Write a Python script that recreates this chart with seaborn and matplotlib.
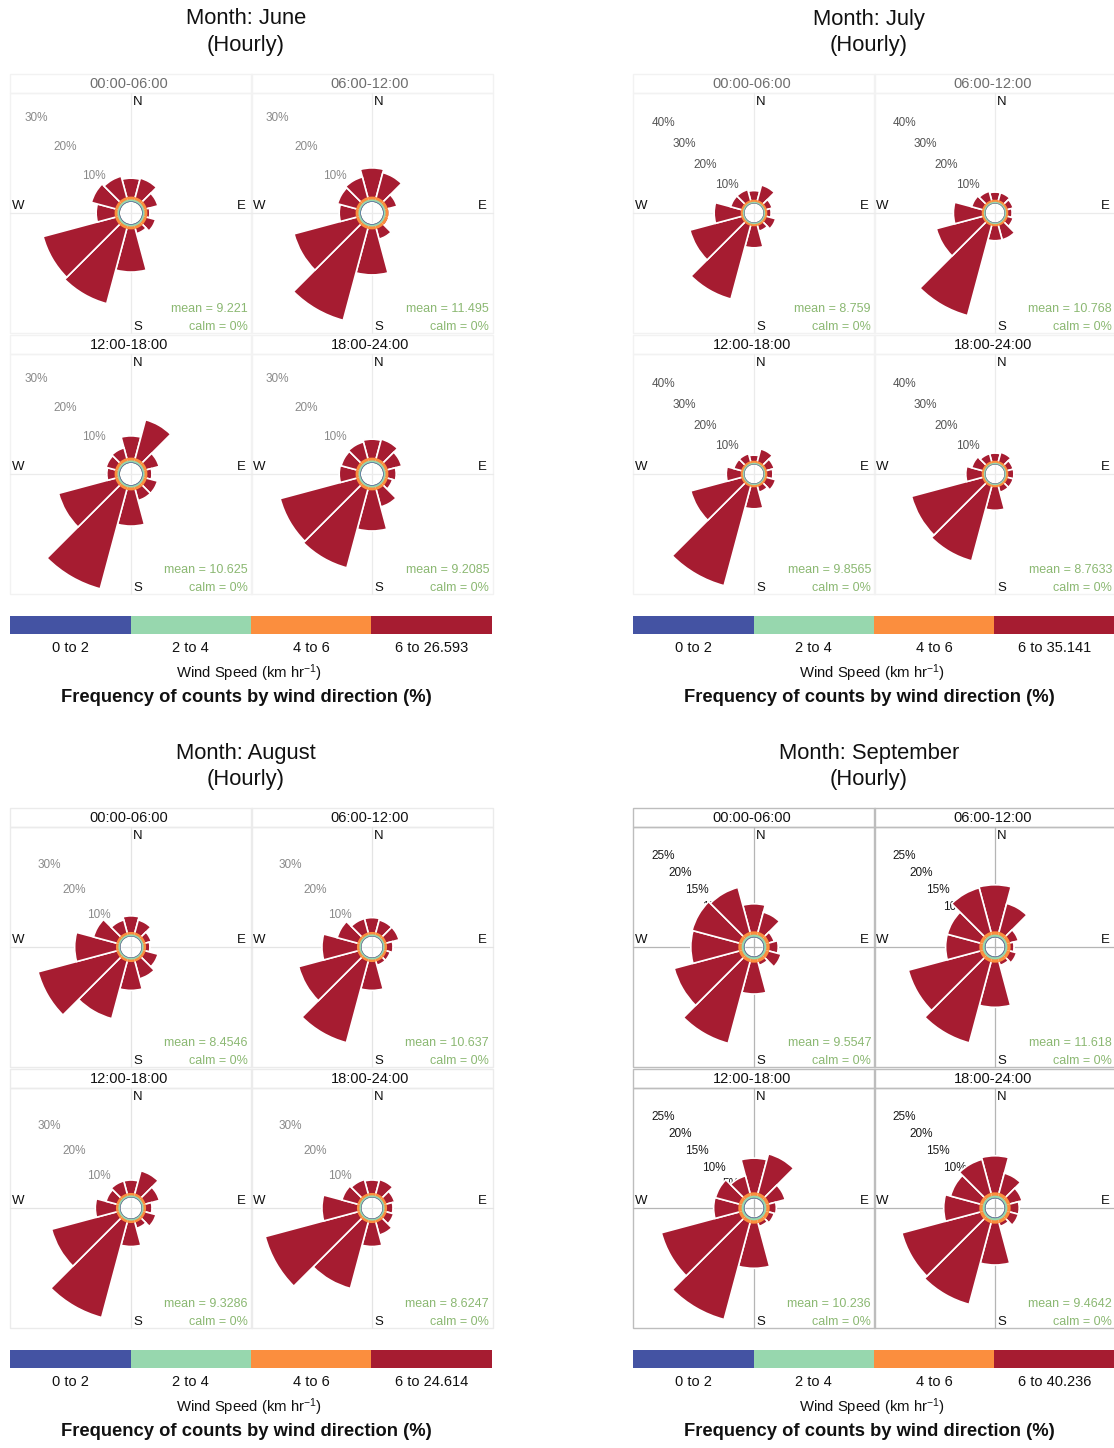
import numpy as np
import matplotlib
matplotlib.use("Agg")
import matplotlib.pyplot as plt
from matplotlib.colors import ListedColormap
from matplotlib.patches import Rectangle
import seaborn as sns

sns.set_theme(style="white")
plt.rcParams["font.family"] = ["Liberation Sans", "DejaVu Sans"]
plt.rcParams["mathtext.fontset"] = "custom"
plt.rcParams["mathtext.rm"] = "Liberation Sans"
plt.rcParams["mathtext.default"] = "regular"

# ---------------------------------------------------------------- data
months = ["June", "July", "August", "September"]
periods = ["00:00-06:00", "06:00-12:00", "12:00-18:00", "18:00-24:00"]
directions = [0, 30, 60, 90, 120, 150, 180, 210, 240, 270, 300, 330]
speed_labels = ["0 to 2", "2 to 4", "4 to 6"]
speed_colours = ["#4453A3", "#97D7AE", "#FB8E3E", "#A61C31"]

# low wind-speed bins (% of counts per direction)
low_0_2 = [0.15, 0.15, 0.15, 0.15, 0.15, 0.15, 0.15, 0.15, 0.15, 0.15, 0.15, 0.15]
low_2_4 = [0.45, 0.45, 0.45, 0.45, 0.45, 0.45, 0.45, 0.45, 0.45, 0.45, 0.45, 0.45]
low_4_6 = [0.70, 0.70, 0.70, 0.70, 0.70, 0.70, 0.70, 0.70, 0.70, 0.70, 0.70, 0.70]

# top wind-speed bin (% of counts per direction), N clockwise in 30 degree sectors
june_00_06 = [4.5, 4.8, 2.8, 0.6, 2.2, 1.2, 10.4, 18.9, 18.2, 4.5, 6.0, 5.3]
june_06_12 = [7.0, 6.2, 2.3, 0.2, 0.2, 2.6, 11.1, 23.1, 15.7, 4.0, 4.7, 5.1]
june_12_18 = [5.3, 9.7, 3.1, 1.1, 2.7, 2.7, 8.7, 25.0, 14.3, 1.9, 2.3, 2.6]
june_18_24 = [4.5, 4.8, 3.5, 1.9, 1.2, 4.3, 9.9, 19.7, 19.2, 4.0, 3.8, 4.1]

july_00_06 = [3.1, 5.3, 1.9, 1.3, 3.1, 1.9, 7.3, 25.7, 18.0, 9.0, 3.7, 3.7]
july_06_12 = [2.6, 2.6, 1.9, 1.3, 1.9, 4.9, 4.9, 31.5, 16.1, 9.6, 3.7, 3.1]
july_12_18 = [1.9, 4.3, 2.6, 1.9, 3.1, 1.9, 7.3, 34.7, 17.7, 4.9, 2.6, 2.6]
july_18_24 = [2.6, 3.1, 1.9, 1.9, 1.9, 1.9, 7.8, 26.0, 24.8, 5.4, 3.7, 2.6]

august_00_06 = [4.6, 3.7, 1.7, 1.1, 3.7, 5.1, 8.1, 16.9, 23.2, 11.8, 6.8, 3.7]
august_06_12 = [4.1, 3.7, 3.7, 1.7, 1.1, 1.1, 8.1, 24.0, 17.4, 10.0, 6.0, 4.1]
august_12_18 = [3.7, 6.7, 4.1, 1.7, 3.1, 1.7, 6.7, 28.1, 19.2, 5.9, 3.1, 3.7]
august_18_24 = [3.7, 4.1, 2.4, 1.7, 2.1, 3.7, 6.7, 19.5, 27.3, 10.0, 4.6, 4.1]

september_00_06 = [5.8, 4.3, 1.1, 1.8, 2.6, 0.7, 6.6, 17.7, 14.1, 10.0, 10.2, 9.7]
september_06_12 = [9.8, 6.2, 1.8, 0.7, 1.4, 0.7, 9.4, 17.6, 15.6, 7.1, 7.1, 9.6]
september_12_18 = [7.2, 8.5, 3.5, 1.4, 1.1, 0.7, 9.4, 21.0, 16.9, 5.2, 5.1, 3.7]
september_18_24 = [7.7, 4.3, 2.6, 1.8, 1.8, 0.7, 8.7, 17.7, 17.0, 7.5, 6.4, 7.3]

top_bin = {
    "June": [june_00_06, june_06_12, june_12_18, june_18_24],
    "July": [july_00_06, july_06_12, july_12_18, july_18_24],
    "August": [august_00_06, august_06_12, august_12_18, august_18_24],
    "September": [september_00_06, september_06_12, september_12_18, september_18_24],
}

mean_speed = {
    "June": ["9.221", "11.495", "10.625", "9.2085"],
    "July": ["8.759", "10.768", "9.8565", "8.7633"],
    "August": ["8.4546", "10.637", "9.3286", "8.6247"],
    "September": ["9.5547", "11.618", "10.236", "9.4642"],
}
max_speed = {"June": "26.593", "July": "35.141", "August": "24.614", "September": "40.236"}
calm = "0%"

ring_labels = {
    "June": [10, 20, 30],
    "July": [10, 20, 30, 40],
    "August": [10, 20, 30],
    "September": [5, 10, 15, 20, 25],
}

# ---------------------------------------------------------------- layout (pixels)
W, H = 1114, 1448
panel_origin = {"June": (0, 0), "July": (623, 0), "August": (0, 734), "September": (623, 734)}
rose_centre = [(131, 213), (372, 213), (131, 474), (372, 474)]
px_per_pct = {"June": 4.1, "July": 2.95, "August": 3.5, "September": 4.75}
hole = {"June": 2.7, "July": 3.2, "August": 3.0, "September": 2.0}
frame_col = {"June": "#F2F2F2", "July": "#F2F2F2", "August": "#EBEBEB", "September": "#BDBDBD"}
cross_col = {"June": "#EBEBEB", "July": "#EBEBEB", "August": "#E4E4E4", "September": "#B5B5B5"}
ring_col = {"June": "#8A8A8A", "July": "#555555", "August": "#8A8A8A", "September": "#1A1A1A"}
strip_col = {
    "June": ["#6E6E6E", "#6E6E6E", "#111111", "#111111"],
    "July": ["#6E6E6E", "#6E6E6E", "#111111", "#111111"],
    "August": ["#111111", "#111111", "#111111", "#111111"],
    "September": ["#111111", "#111111", "#111111", "#111111"],
}
green_txt = "#8BB872"
ROSE_R = 125

fig = plt.figure(figsize=(W / 100, H / 100), dpi=100)
overlay = fig.add_axes([0, 0, 1, 1], zorder=0)
overlay.set_xlim(0, W)
overlay.set_ylim(H, 0)
overlay.axis("off")


def fig_box(x, y, w, h):
    return [x / W, 1 - (y + h) / H, w / W, h / H]


theta = np.deg2rad(directions)
sector = np.deg2rad(30)

for month in months:
    x0, y0 = panel_origin[month]
    s = px_per_pct[month]
    off = hole[month]

    overlay.text(x0 + 246, y0 + 19, f"Month: {month}", ha="center", va="center",
                 fontsize=15.8, color="#111111")
    overlay.text(x0 + 246, y0 + 45, "(Hourly)", ha="center", va="center",
                 fontsize=15.8, color="#111111")

    for k, period in enumerate(periods):
        cx, cy = x0 + rose_centre[k][0], y0 + rose_centre[k][1]

        # panel, strip and cross-hair
        overlay.add_patch(Rectangle((cx - 121, cy - 120), 242, 240, fill=False,
                                    edgecolor=frame_col[month], lw=1.0))
        overlay.add_patch(Rectangle((cx - 121, cy - 139), 242, 19, fill=False,
                                    edgecolor=frame_col[month], lw=1.0))
        overlay.plot([cx - 121, cx + 121], [cy, cy], color=cross_col[month], lw=0.9)
        overlay.plot([cx, cx], [cy - 120, cy + 120], color=cross_col[month], lw=0.9)
        overlay.text(cx - 2, cy - 129, period, ha="center", va="center",
                     fontsize=10.5, color=strip_col[month][k])

        # compass points
        overlay.text(cx + 7, cy - 111, "N", ha="center", va="center", fontsize=9.5, color="#111111")
        overlay.text(cx + 7, cy + 114, "S", ha="center", va="center", fontsize=9.5, color="#111111")
        overlay.text(cx - 113, cy - 7, "W", ha="center", va="center", fontsize=9.5, color="#111111")
        overlay.text(cx + 110, cy - 7, "E", ha="center", va="center", fontsize=9.5, color="#111111")

        overlay.text(cx + 117, cy + 96, f"mean = {mean_speed[month][k]}", ha="right",
                     va="center", fontsize=9, color=green_txt)
        overlay.text(cx + 117, cy + 114, f"calm = {calm}", ha="right", va="center",
                     fontsize=9, color=green_txt)

        # wind rose
        ax = fig.add_axes(fig_box(cx - ROSE_R, cy - ROSE_R, 2 * ROSE_R, 2 * ROSE_R),
                          projection="polar", zorder=2)
        ax.set_theta_zero_location("N")
        ax.set_theta_direction(-1)
        ax.set_rlim(0, ROSE_R / s)
        ax.patch.set_alpha(0)
        ax.grid(False)
        ax.spines["polar"].set_visible(False)
        ax.set_xticks([])
        ax.set_yticks([])

        for p in ring_labels[month]:
            ax.text(np.deg2rad(315), off + p, f"{p}%", ha="center", va="center",
                    fontsize=8.5, color=ring_col[month], clip_on=False, zorder=0.5)

        stack = np.vstack([low_0_2, low_2_4, low_4_6, top_bin[month][k]]).cumsum(axis=0)
        for level in [3, 2, 1, 0]:
            ax.bar(theta, stack[level], width=sector, bottom=off,
                   color=speed_colours[level],
                   edgecolor="white" if level == 3 else "none",
                   linewidth=1.2 if level == 3 else 0,
                   zorder=3 + (3 - level))

    # speed legend
    lax = fig.add_axes(fig_box(x0 + 10, y0 + 616, 482, 18), zorder=1)
    sns.heatmap(np.array([[0, 1, 2, 3]]), cmap=ListedColormap(speed_colours), cbar=False,
                ax=lax, xticklabels=False, yticklabels=False, vmin=-0.5, vmax=3.5)
    labels = speed_labels + [f"6 to {max_speed[month]}"]
    for i, lab in enumerate(labels):
        overlay.text(x0 + 10 + 60.25 + 120.5 * i, y0 + 648, lab, ha="center", va="center",
                     fontsize=10.5, color="#111111")
    overlay.text(x0 + 249, y0 + 673, "Wind Speed (km hr$^{-1}$)", ha="center", va="center",
                 fontsize=10.7, color="#111111")
    overlay.text(x0 + 246, y0 + 698, "Frequency of counts by wind direction (%)",
                 ha="center", va="center", fontsize=13.2, fontweight="bold", color="#111111")

fig.savefig("out.png", dpi=100, facecolor="white")
